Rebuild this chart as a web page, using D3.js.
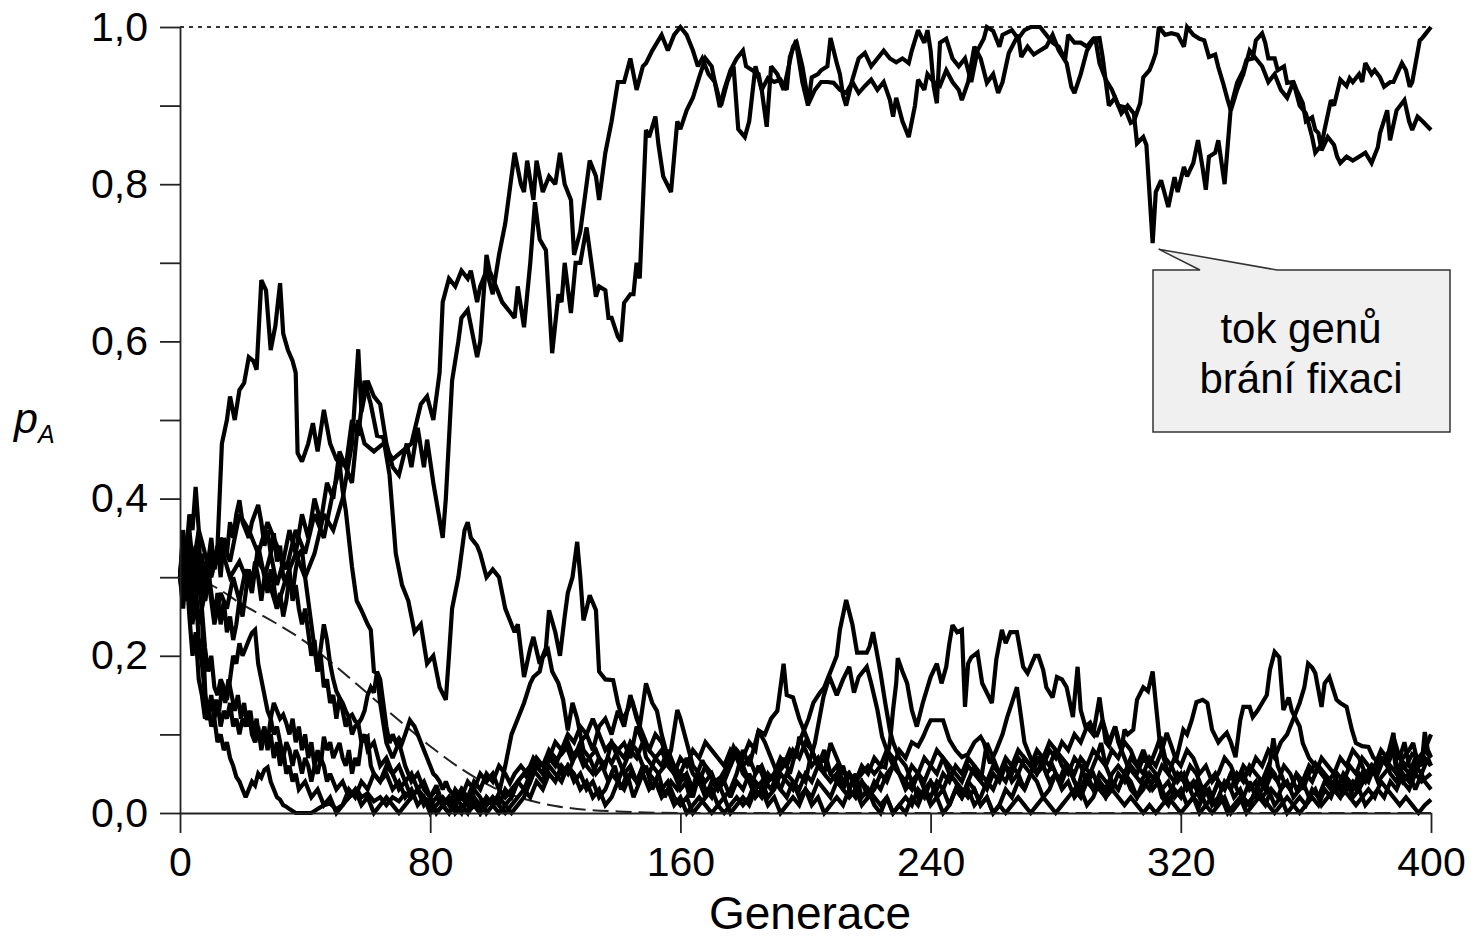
<!DOCTYPE html>
<html><head><meta charset="utf-8">
<script src="https://cdn.jsdelivr.net/npm/d3@7"></script>
<style>body{margin:0;background:#fff}svg{display:block}</style>
</head><body>
<svg id="chart" width="1476" height="941"></svg>
<script>
// ---------- data ----------
const xTickValues=[0,80,160,240,320,400];
const yTickValues=[0,0.1,0.2,0.3,0.4,0.5,0.6,0.7,0.8,0.9,1.0];
const yLabelled=[0,0.2,0.4,0.6,0.8,1.0];
const xTitle="Generace";
const calloutLines=["tok genů","brání fixaci"];
const calloutGen=311, calloutVal=0.725;

// expected (mean) trajectory, dashed
const expected=[[0,0.30],[10,0.29],[20,0.265],[30,0.243],[40,0.218],[50,0.186],[60,0.152],[70,0.118],[80,0.085],[90,0.056],[100,0.033],[110,0.018],[120,0.009],[130,0.004],[140,0.002],[160,0.0],[400,0.0]];

const upper1=[[0,0.30],[2,0.34],[4,0.31],[6,0.36],[8,0.33],[10,0.30],[13,0.35],[16,0.32],[19,0.38],[22,0.36],[25,0.33],[28,0.37],[31,0.34],[34,0.31],[37,0.36],[40,0.33],[43,0.38],[46,0.35],[49,0.41],[52,0.45],[55,0.42],[57,0.50],[59,0.47],[62,0.46],[65,0.47],[68,0.45],[71,0.46],[74,0.47],[77,0.52],[79,0.53],[81,0.50],[83,0.56],[84,0.65],[86,0.68],[88,0.67],[90,0.69],[92,0.68],[93,0.69],[95,0.65],[96,0.67],[98,0.69],[100,0.66],[102,0.71],[104,0.75],[107,0.84],[109,0.80],[110,0.79],[111,0.83],[113,0.78],[114,0.83],[116,0.79],[118,0.81],[120,0.80],[121.5,0.84],[123,0.80],[125,0.78],[126,0.71],[128,0.74],[130,0.80],[131,0.83],[133,0.81],[134,0.78],[136,0.84],[138,0.88],[140,0.93],[142,0.93],[144,0.96],[146,0.92],[148,0.95],[149,0.954],[151,0.97],[154,0.99],[156,0.97],[158,0.99],[160,1.0],[162,0.99],[164,0.97],[165.6,0.95],[167,0.96],[169,0.94],[171,0.93],[173,0.90],[175,0.93],[177,0.95],[178.5,0.87],[180.6,0.86],[182,0.88],[184,0.95],[186,0.92],[187.6,0.873],[189,0.95],[191,0.94],[193,0.92],[196,0.975],[197,0.98],[199,0.93],[200.8,0.90],[202,0.936],[204,0.94],[205,0.945],[207,0.95],[208,0.986],[209,0.97],[210,0.954],[211,0.94],[212,0.913],[213,0.90],[215,0.933],[217,0.96],[219,0.967],[221,0.95],[223,0.96],[225,0.97],[227,0.96],[229,0.955],[231,0.96],[233,0.954],[234,0.97],[236,0.996],[238,0.98],[239,0.996],[240,0.97],[241,0.924],[242,0.903],[243,0.98],[245,0.985],[247,0.96],[249,0.95],[251,0.96],[253,0.93],[255,0.97],[257,0.985],[258,1.0],[260,0.995],[262,0.975],[263,0.99],[266,0.996],[268,0.985],[270,0.996],[272,1.0],[275,1.0],[277,0.99],[279,0.98],[281,0.975],[283,0.958],[284,0.99],[286,0.98],[288,0.98],[290,0.975],[292,0.985],[294,0.986],[295,0.962],[297,0.90],[299,0.91],[301,0.89],[303,0.90],[305,0.89],[306,0.852],[308,0.86],[309,0.85],[311,0.725],[312,0.79],[313.7,0.805],[316,0.771],[318,0.809],[319,0.79],[321,0.822],[322,0.81],[324,0.827],[325.5,0.856],[327,0.82],[328,0.793],[329,0.835],[331,0.84],[332,0.856],[334,0.80],[336,0.898],[338,0.929],[340,0.945],[341,0.958],[343,0.96],[344,0.983],[346,0.992],[347,0.98],[348,0.96],[350,0.96],[351,0.945],[353,0.95],[354,0.929],[356,0.93],[357,0.92],[359,0.903],[360,0.88],[362,0.885],[363,0.869],[364,0.865],[365,0.843],[367,0.86],[369,0.85],[370,0.835],[371,0.827],[373,0.835],[375,0.83],[377,0.835],[379,0.84],[381,0.827],[383,0.847],[383.7,0.865],[386,0.894],[386.9,0.856],[389,0.894],[391.5,0.907],[393,0.88],[394,0.869],[395.7,0.886],[397.3,0.88],[400,0.869]];

const upper2=[[0,0.30],[2,0.28],[4,0.33],[6,0.30],[8,0.27],[10,0.31],[13,0.34],[16,0.30],[19,0.32],[22,0.29],[25,0.32],[28,0.30],[31,0.26],[34,0.30],[37,0.33],[40,0.30],[43,0.33],[46,0.38],[49,0.36],[52,0.40],[55,0.47],[57,0.59],[58,0.51],[60,0.55],[62,0.53],[64,0.52],[66,0.47],[68,0.44],[70,0.43],[72.5,0.47],[74,0.44],[76,0.49],[78,0.44],[79,0.475],[81,0.42],[82.5,0.385],[84,0.35],[85,0.40],[87,0.55],[89,0.60],[90,0.63],[92,0.64],[94,0.60],[95,0.58],[96,0.60],[98,0.71],[99,0.69],[101,0.67],[103,0.65],[105,0.64],[107,0.63],[108,0.67],[110,0.618],[112,0.70],[113.5,0.777],[115,0.73],[117,0.716],[119,0.585],[121,0.66],[122,0.65],[123,0.70],[125,0.636],[126.5,0.70],[128,0.70],[130,0.745],[133,0.657],[134,0.67],[136,0.665],[137,0.63],[138,0.63],[140,0.606],[141,0.60],[142,0.649],[144,0.66],[145,0.66],[146,0.70],[147,0.68],[149,0.869],[150,0.86],[152,0.886],[153,0.85],[154.5,0.81],[157,0.79],[159,0.88],[160,0.87],[162,0.894],[164,0.91],[166,0.936],[168,0.96],[170,0.95],[172.6,0.898],[174,0.92],[176,0.945],[178,0.96],[180,0.97],[181,0.95],[183,0.945],[185,0.94],[186,0.92],[188,0.935],[190,0.93],[192,0.933],[194,0.92],[195,0.962],[197,0.983],[199,0.95],[201,0.903],[203,0.92],[205,0.93],[207,0.93],[209,0.929],[211,0.92],[213,0.916],[215,0.93],[217,0.916],[219,0.925],[221,0.933],[223,0.92],[225,0.93],[227,0.907],[228,0.886],[229,0.91],[231,0.88],[233,0.86],[235,0.90],[236,0.933],[238,0.92],[239,0.94],[241,0.93],[243,0.925],[245,0.945],[247,0.93],[249,0.92],[250,0.907],[252,0.93],[254,0.975],[256,0.96],[258,0.929],[260,0.94],[261.6,0.916],[263,0.93],[265,0.967],[268,0.99],[269,0.962],[271,0.975],[273,0.965],[275,0.97],[277,0.975],[279,0.99],[281,0.97],[283.5,0.954],[285,0.924],[286,0.916],[288,0.94],[290,0.97],[292.6,0.987],[294,0.954],[296,0.933],[298,0.92],[300,0.90],[302,0.898],[304,0.878],[305,0.88],[307,0.903],[308,0.936],[310,0.945],[311,0.955],[312,0.967],[313,1.0],[315,0.99],[317,0.992],[319,0.99],[321,0.975],[322,1.0],[324,0.99],[326,0.985],[327.5,0.983],[329,0.962],[331,0.965],[332,0.949],[333.5,0.929],[335,0.907],[336,0.894],[338,0.92],[340,0.94],[342,0.97],[344,0.96],[346,0.95],[348,0.93],[350,0.94],[352,0.92],[354,0.91],[356,0.93],[358,0.90],[360,0.89],[362,0.86],[363,0.84],[365,0.85],[366,0.87],[368,0.907],[369,0.90],[371,0.933],[373,0.925],[374,0.935],[375,0.93],[377,0.94],[378,0.93],[379,0.954],[381,0.94],[382,0.945],[383.7,0.936],[385,0.924],[387,0.93],[388,0.93],[390.7,0.954],[392,0.945],[393.2,0.924],[394,0.93],[396.4,0.983],[397,0.985],[398,0.99],[400,1.0]];

const lower1=[[0,0.30],[2,0.35],[3,0.28],[5,0.33],[7,0.26],[9,0.30],[11,0.24],[13,0.28],[15,0.26],[17,0.30],[19,0.27],[21,0.31],[23,0.28],[25,0.34],[27,0.30],[29,0.33],[31,0.29],[33,0.32],[35,0.36],[37,0.33],[39,0.38],[41,0.35],[43,0.40],[45,0.37],[47,0.42],[49,0.40],[51,0.46],[53,0.44],[55,0.50],[57,0.48],[59,0.55],[61,0.52],[63,0.48],[65,0.478],[67,0.43],[69,0.33],[71,0.29],[73,0.27],[75,0.23],[77,0.24],[79,0.19],[81,0.20],[83,0.16],[85,0.144],[86,0.20],[87,0.26],[89,0.30],[91,0.36],[92,0.37],[93,0.35],[95,0.34],[96,0.33],[98,0.30],[100,0.31],[102,0.30],[104,0.26],[105,0.25],[107,0.23],[108,0.24],[110,0.173],[112,0.21],[113,0.224],[115,0.19],[117,0.21],[118,0.258],[120,0.23],[121.5,0.20],[123,0.25],[124,0.28],[125.5,0.30],[127,0.345],[128,0.30],[129,0.245],[130,0.26],[131,0.277],[133,0.258],[134,0.18],[136,0.17],[138.5,0.169],[140,0.14],[141.6,0.118],[143,0.13],[144.5,0.144],[147,0.11],[149,0.165],[151,0.14],[152.5,0.13],[154,0.10],[156,0.07],[158,0.05],[160,0.03],[162,0.04],[164,0.02],[166,0.05],[168,0.03],[170,0.02],[172,0.04],[174,0.02],[176,0.03],[178,0.05],[180,0.08],[182,0.06],[184,0.09],[185,0.105],[187,0.10],[189,0.12],[191,0.13],[193,0.19],[194,0.15],[196,0.147],[198,0.12],[200,0.10],[202,0.08],[204,0.06],[206,0.08],[208,0.05],[210,0.04],[212,0.06],[214,0.03],[216,0.05],[218,0.02],[220,0.03],[222,0.01],[224,0.0],[226,0.02],[228,0.0],[230,0.01],[232,0.0],[234,0.02],[236,0.01],[238,0.03],[240,0.02],[242,0.04],[244,0.03],[246,0.05],[248,0.04],[250,0.02],[252,0.03],[254,0.01],[256,0.02],[258,0.04],[260,0.03],[262,0.05],[264,0.04],[266,0.06],[268,0.05],[270,0.07],[272,0.06],[274,0.08],[276,0.07],[278,0.09],[280,0.08],[282,0.06],[284,0.05],[286,0.07],[288,0.06],[290,0.04],[292,0.05],[294,0.03],[296,0.02],[298,0.04],[300,0.03],[302,0.05],[304,0.04],[306,0.02],[308,0.03],[310,0.05],[312,0.04],[314,0.06],[316,0.05],[318,0.07],[320,0.06],[322,0.08],[324,0.07],[326,0.05],[328,0.06],[330,0.04],[332,0.05],[334,0.07],[336,0.06],[338,0.04],[340,0.05],[342,0.03],[344,0.04],[346,0.02],[348,0.03],[350,0.01],[352,0.02],[354,0.0],[356,0.01],[358,0.02],[360,0.01],[362,0.03],[364,0.02],[366,0.04],[368,0.03],[370,0.05],[372,0.04],[374,0.06],[376,0.05],[378,0.07],[380,0.06],[382,0.05],[384,0.07],[386,0.06],[388,0.08],[390,0.07],[391.5,0.09],[393,0.06],[395,0.05],[397,0.07],[399,0.09],[400,0.1]];

const lower2=[[0,0.30],[1,0.34],[2,0.29],[3,0.33],[4,0.30],[5,0.27],[6,0.31],[7,0.28],[8,0.32],[9,0.30],[10,0.33],[11,0.31],[12,0.34],[13.4,0.47],[15,0.50],[16,0.53],[17.5,0.50],[19,0.538],[20.5,0.547],[22,0.58],[23.5,0.575],[24.5,0.564],[26,0.678],[27.5,0.665],[29,0.589],[30.5,0.62],[32,0.674],[33,0.61],[34.5,0.589],[36,0.575],[37,0.56],[37.6,0.458],[39,0.447],[41,0.47],[42.5,0.496],[44,0.46],[46,0.513],[48,0.47],[50,0.45],[51,0.445],[52,0.41],[53,0.385],[55,0.313],[56.5,0.27],[58,0.258],[60,0.24],[61,0.233],[62,0.18],[63,0.178],[64,0.14],[66,0.089],[68,0.07],[70,0.09],[72,0.06],[74,0.04],[76,0.05],[78,0.03],[80,0.02],[82,0.035],[84,0.01],[86,0.02],[88,0.0],[90,0.01],[92,0.0],[94,0.02],[96,0.01],[98,0.02],[100,0.01],[102,0.025],[104,0.06],[106,0.10],[108,0.12],[110,0.14],[112,0.165],[113,0.173],[115,0.18],[116,0.198],[117.7,0.207],[119,0.18],[121,0.165],[122.5,0.144],[124,0.105],[125.5,0.14],[127,0.12],[129,0.08],[131,0.07],[133,0.05],[135,0.06],[137,0.04],[139,0.06],[141,0.03],[143,0.05],[145,0.02],[147,0.04],[149,0.06],[151,0.03],[153,0.05],[155,0.02],[157,0.04],[159,0.03],[161,0.05],[163,0.02],[165,0.046],[167,0.067],[169,0.05],[171,0.04],[173,0.046],[175,0.06],[177,0.084],[179,0.07],[181,0.05],[183,0.04],[185,0.06],[187,0.04],[189,0.03],[191,0.05],[193,0.07],[195,0.05],[197,0.08],[199,0.10],[201,0.12],[202.5,0.14],[204.6,0.153],[206,0.16],[207,0.17],[209,0.19],[210,0.20],[211,0.233],[213,0.271],[215,0.24],[216.5,0.204],[218,0.204],[219.6,0.204],[220.5,0.212],[221.6,0.23],[223,0.20],[224,0.178],[225.5,0.14],[227,0.105],[228,0.09],[230,0.07],[232,0.06],[234,0.04],[236,0.05],[238,0.03],[240,0.04],[242,0.02],[244,0.03],[246,0.01],[248,0.03],[250,0.02],[252,0.04],[254,0.06],[256,0.04],[258,0.089],[260,0.07],[262,0.05],[264,0.06],[266,0.04],[268,0.05],[270,0.03],[272,0.05],[275,0.071],[277,0.05],[279,0.06],[281,0.04],[283,0.06],[285,0.05],[287,0.03],[289,0.06],[291,0.05],[293,0.07],[294.5,0.089],[296,0.06],[298,0.04],[300,0.03],[302,0.05],[304,0.03],[306,0.02],[308,0.04],[310,0.03],[312,0.05],[314,0.02],[316,0.01],[318,0.03],[320,0.02],[322,0.04],[324,0.02],[326,0.03],[328,0.01],[330,0.02],[332,0.04],[334,0.03],[336,0.05],[338,0.03],[340,0.02],[342,0.04],[344,0.02],[346,0.03],[348,0.05],[349.6,0.095],[351,0.06],[353,0.04],[355,0.03],[357,0.05],[359,0.03],[361,0.05],[363,0.063],[365,0.05],[367,0.04],[369,0.03],[371,0.02],[373,0.03],[375,0.04],[377,0.03],[379,0.045],[381,0.05],[383,0.06],[385,0.07],[386,0.075],[388,0.08],[389,0.05],[391,0.04],[393,0.03],[395,0.05],[397,0.04],[400,0.05]];

const lower3=[[0,0.30],[1,0.36],[2,0.32],[3,0.35],[4,0.31],[5,0.34],[6,0.30],[7,0.33],[8,0.29],[9,0.32],[10,0.35],[11,0.31],[12,0.34],[13,0.30],[14,0.35],[15,0.33],[16,0.37],[17,0.35],[18,0.38],[19,0.398],[20,0.37],[21,0.36],[22,0.35],[23,0.37],[25,0.392],[26,0.37],[27,0.34],[28,0.36],[29,0.33],[30,0.356],[31,0.32],[32,0.34],[33,0.30],[34,0.29],[35,0.31],[36,0.27],[37,0.29],[38,0.26],[39,0.24],[40,0.26],[41,0.23],[42,0.20],[43,0.22],[44,0.18],[45,0.2],[46,0.16],[47,0.17],[48,0.14],[49,0.15],[50,0.12],[51,0.147],[52,0.13],[53,0.11],[54,0.122],[55,0.10],[56,0.11],[57,0.114],[58,0.09],[59,0.10],[60,0.08],[62,0.09],[64,0.06],[66,0.07],[68,0.05],[70,0.06],[72,0.04],[74,0.05],[76,0.03],[78,0.04],[80,0.02],[82,0.03],[84,0.01],[86,0.02],[88,0.01],[90,0.03],[92,0.02],[94,0.04],[96,0.03],[98,0.05],[100,0.04],[102,0.06],[104,0.05],[105.5,0.038],[107,0.05],[109,0.06],[111,0.05],[113,0.07],[115,0.06],[117,0.065],[118,0.07],[120,0.067],[122,0.075],[123.7,0.084],[125,0.07],[127,0.08],[129,0.06],[131,0.071],[133,0.08],[135,0.06],[137,0.07],[138,0.063],[140,0.08],[142,0.089],[144,0.07],[146,0.11],[148,0.09],[149,0.071],[151,0.06],[153,0.05],[155,0.06],[157,0.08],[159,0.131],[160,0.12],[162,0.09],[164,0.06],[166,0.05],[168,0.04],[170,0.05],[172,0.03],[174,0.04],[176,0.02],[178,0.04],[180,0.03],[182,0.05],[184,0.03],[186,0.04],[188,0.02],[190,0.03],[192,0.05],[194,0.04],[196,0.03],[198,0.05],[200,0.04],[201.4,0.067],[203,0.089],[205.7,0.147],[207,0.165],[208,0.17],[210,0.15],[212,0.17],[214,0.186],[215.5,0.153],[217,0.173],[219.6,0.186],[221,0.165],[223,0.131],[224.5,0.097],[226,0.08],[228,0.06],[230,0.05],[232,0.03],[234,0.04],[236,0.02],[238,0.03],[240,0.01],[242,0.02],[244,0.0],[246,0.01],[248,0.03],[250,0.02],[252,0.04],[254,0.03],[256,0.01],[258,0.02],[260,0.0],[262,0.01],[264,0.03],[266,0.02],[268,0.04],[270,0.03],[272,0.05],[274,0.04],[276,0.02],[278,0.03],[280,0.05],[282,0.04],[284,0.06],[286,0.04],[288,0.03],[290,0.05],[292,0.03],[294,0.04],[296,0.02],[298,0.03],[300,0.05],[302,0.04],[304,0.06],[306,0.05],[308,0.07],[310,0.06],[312,0.08],[313.5,0.097],[315,0.07],[317,0.06],[319,0.04],[321,0.05],[323,0.03],[325,0.04],[327,0.02],[329,0.03],[331,0.01],[333,0.02],[335,0.0],[337,0.01],[339,0.02],[341,0.0],[343,0.01],[345,0.02],[347,0.01],[349,0.03],[351,0.02],[353,0.04],[355,0.03],[357,0.05],[359,0.04],[361,0.06],[363,0.05],[365,0.07],[367,0.06],[369,0.05],[371,0.07],[373,0.06],[375,0.08],[377,0.07],[379,0.05],[381,0.06],[383,0.04],[385,0.05],[387,0.06],[389,0.05],[391,0.07],[393,0.08],[394.3,0.089],[396,0.06],[398,0.07],[400,0.06]];

const lower4=[[0,0.30],[1,0.35],[2,0.33],[3,0.38],[4,0.36],[5,0.415],[6,0.36],[7,0.25],[8,0.16],[8.6,0.118],[9.5,0.14],[10.5,0.13],[11.5,0.144],[12.5,0.13],[13.5,0.16],[14.5,0.14],[15.5,0.17],[16.5,0.15],[17.5,0.13],[18.5,0.15],[19.5,0.12],[20.5,0.14],[21.5,0.11],[22.5,0.13],[23.5,0.10],[24.5,0.12],[25.5,0.09],[27,0.11],[28,0.08],[29,0.10],[30,0.07],[31,0.09],[32,0.06],[33,0.08],[34,0.05],[35,0.06],[36,0.04],[37,0.05],[38,0.03],[40,0.04],[42,0.02],[44,0.03],[46,0.01],[48,0.02],[50,0.0],[52,0.01],[54,0.03],[56,0.02],[58,0.04],[60,0.03],[62,0.05],[64,0.04],[66,0.06],[68,0.05],[70,0.03],[72,0.04],[74,0.02],[76,0.03],[78,0.01],[80,0.02],[82,0.0],[84,0.01],[86,0.02],[88,0.01],[90,0.0],[92,0.02],[94,0.01],[96,0.0],[98,0.02],[100,0.01],[102,0.0],[104,0.01],[106,0.02],[108,0.04],[110,0.05],[112,0.06],[114,0.05],[116,0.04],[118,0.06],[120,0.05],[122,0.04],[124,0.06],[126,0.05],[128,0.03],[130,0.04],[132,0.02],[134,0.03],[136,0.01],[138,0.02],[140,0.04],[142,0.03],[144,0.05],[146,0.04],[148,0.06],[150,0.05],[152,0.07],[154,0.06],[156,0.08],[158,0.06],[160,0.05],[162,0.07],[164,0.05],[166,0.04],[168,0.06],[170,0.05],[172,0.03],[174,0.04],[176,0.06],[178,0.08],[180,0.06],[182,0.07],[184,0.05],[186,0.06],[188,0.04],[190,0.05],[192,0.03],[194,0.02],[196,0.04],[198,0.03],[200,0.05],[202,0.04],[204,0.06],[206,0.05],[208,0.089],[210,0.07],[212,0.051],[214,0.05],[216,0.04],[218,0.05],[220,0.06],[222,0.05],[224,0.06],[225.5,0.058],[227,0.09],[228,0.131],[229,0.165],[229.5,0.197],[231,0.18],[232.5,0.165],[234,0.131],[235.6,0.11],[237.5,0.14],[240,0.173],[242,0.19],[243.5,0.165],[245,0.186],[246,0.216],[247,0.239],[248.5,0.23],[250,0.233],[251,0.135],[252,0.19],[253,0.198],[255,0.204],[256.5,0.165],[258,0.153],[259.6,0.14],[261,0.195],[262.8,0.233],[264,0.216],[265.5,0.23],[267.6,0.23],[269.6,0.186],[271,0.178],[273.4,0.20],[274.5,0.2],[276,0.182],[277,0.16],[279,0.147],[280.4,0.173],[282,0.17],[283.5,0.16],[285.5,0.122],[287,0.186],[288,0.131],[289.5,0.11],[291,0.115],[293,0.097],[295,0.118],[297,0.09],[299,0.11],[301,0.08],[303,0.06],[305,0.05],[307,0.04],[309,0.05],[311,0.03],[313,0.04],[315,0.02],[317,0.03],[319,0.05],[321,0.04],[323,0.06],[325,0.05],[327,0.03],[329,0.04],[331,0.05],[333,0.03],[335,0.04],[337,0.02],[339,0.03],[341,0.01],[343,0.02],[345,0.04],[347,0.03],[349,0.05],[351,0.04],[353,0.06],[355,0.05],[357,0.03],[359,0.04],[361,0.02],[363,0.03],[365,0.01],[367,0.02],[369,0.03],[371,0.02],[373,0.04],[375,0.03],[377,0.05],[379,0.04],[381,0.06],[383,0.05],[385,0.07],[387,0.05],[389,0.04],[391,0.06],[393,0.05],[395,0.07],[397,0.06],[398,0.103],[399,0.08],[400,0.071]];

const lower5=[[0,0.30],[1,0.26],[2,0.31],[3,0.25],[4,0.20],[5,0.23],[6,0.17],[7,0.15],[8,0.12],[9,0.14],[10,0.11],[11,0.12],[12,0.09],[13,0.10],[14,0.08],[15,0.09],[16,0.07],[17,0.06],[18,0.046],[19,0.04],[20,0.03],[21,0.02],[22,0.03],[23,0.04],[24,0.035],[25,0.05],[26,0.045],[27,0.055],[28,0.058],[29,0.04],[30,0.03],[31,0.02],[32,0.017],[33,0.01],[34,0.008],[35,0.005],[37,0.0],[40,0.0],[42,0.0],[44,0.005],[46,0.01],[48,0.012],[50,0.005],[52,0.01],[54,0.02],[55.5,0.025],[56.6,0.03],[58,0.02],[60,0.025],[62,0.015],[64,0.02],[66,0.01],[68,0.02],[70,0.015],[72,0.025],[74,0.02],[76,0.03],[78,0.02],[80,0.01],[82,0.02],[84,0.01],[86,0.0],[88,0.01],[90,0.02],[92,0.01],[94,0.03],[96,0.02],[98,0.0],[100,0.01],[102,0.02],[104,0.01],[106,0.0],[108,0.01],[110,0.02],[112,0.04],[114,0.06],[116,0.05],[118,0.07],[120,0.06],[122,0.08],[124,0.09],[126,0.07],[128,0.08],[130,0.06],[132,0.05],[134,0.07],[136,0.06],[138,0.09],[140,0.08],[142,0.07],[144,0.09],[146,0.08],[148,0.06],[150,0.05],[152,0.04],[154,0.03],[156,0.04],[158,0.02],[160,0.01],[162,0.02],[164,0.0],[166,0.01],[168,0.02],[170,0.04],[172,0.03],[174,0.05],[176,0.06],[178,0.08],[180,0.07],[182,0.09],[184,0.08],[185,0.105],[187,0.09],[189,0.07],[191,0.05],[193,0.06],[195,0.08],[197,0.07],[198,0.097],[200,0.08],[202,0.06],[204,0.07],[206,0.05],[208,0.04],[210,0.05],[212,0.03],[214,0.02],[216,0.03],[218,0.01],[220,0.02],[222,0.04],[224,0.03],[226,0.05],[228,0.06],[230,0.08],[232,0.07],[234,0.09],[236,0.085],[237.6,0.097],[239,0.11],[240,0.118],[242,0.118],[244,0.118],[246,0.093],[248,0.08],[250,0.071],[252,0.075],[254,0.09],[256,0.097],[257,0.09],[259,0.063],[261,0.08],[263,0.1],[264.5,0.122],[266,0.14],[267.6,0.16],[269,0.12],[270,0.09],[272,0.07],[274,0.05],[276,0.06],[278,0.04],[280,0.05],[282,0.03],[284,0.04],[286,0.02],[288,0.03],[290,0.01],[292,0.02],[294,0.04],[296,0.03],[298,0.05],[300,0.06],[302,0.05],[304,0.07],[306,0.06],[308,0.08],[310,0.06],[312,0.05],[314,0.03],[316,0.04],[318,0.02],[320,0.03],[322,0.01],[324,0.02],[326,0.0],[328,0.01],[330,0.0],[332,0.01],[334,0.02],[336,0.0],[338,0.01],[340,0.02],[342,0.01],[344,0.03],[346,0.02],[348,0.01],[350,0.0],[352,0.01],[354,0.02],[356,0.01],[358,0.0],[360,0.01],[362,0.02],[364,0.01],[366,0.03],[368,0.02],[370,0.04],[372,0.03],[374,0.02],[376,0.01],[378,0.02],[380,0.03],[382,0.02],[384,0.04],[386,0.03],[388,0.02],[390,0.01],[392,0.02],[394,0.01],[396,0.0],[398,0.01],[400,0.017]];

const lower6=[[0,0.30],[1,0.33],[2,0.27],[3,0.31],[4,0.26],[5,0.29],[6,0.24],[7,0.26],[8,0.21],[9,0.18],[10,0.20],[11,0.16],[12,0.15],[13,0.17],[14,0.16],[15,0.144],[16,0.17],[17,0.20],[18,0.19],[19,0.216],[20,0.20],[21,0.21],[22,0.22],[23,0.229],[24,0.233],[25,0.19],[26,0.17],[27,0.15],[28,0.13],[29,0.12],[30,0.14],[31,0.13],[32,0.12],[33,0.125],[34,0.114],[35,0.10],[36,0.12],[37,0.09],[38,0.11],[39,0.08],[40,0.10],[41,0.07],[42,0.09],[43,0.06],[44,0.08],[45,0.06],[46,0.097],[47,0.08],[48,0.09],[49,0.07],[50,0.08],[51,0.089],[52,0.07],[53,0.06],[54,0.08],[55,0.05],[56,0.07],[57,0.06],[58,0.09],[60,0.097],[61,0.06],[62,0.05],[64,0.04],[66,0.05],[68,0.03],[70,0.04],[72,0.02],[74,0.03],[76,0.01],[78,0.02],[80,0.0],[82,0.01],[84,0.02],[86,0.01],[88,0.03],[90,0.02],[92,0.04],[94,0.03],[96,0.05],[98,0.04],[100,0.05],[102,0.03],[104,0.02],[106,0.03],[108,0.04],[110,0.03],[112,0.05],[114,0.07],[116,0.06],[118,0.08],[120,0.07],[122,0.05],[124,0.06],[126,0.04],[128,0.05],[130,0.03],[132,0.04],[134,0.02],[136,0.03],[138,0.05],[140,0.04],[142,0.06],[144,0.08],[146,0.07],[148,0.09],[150,0.08],[152,0.10],[154,0.09],[156,0.07],[158,0.06],[160,0.04],[162,0.05],[164,0.03],[166,0.04],[168,0.02],[170,0.03],[172,0.01],[174,0.02],[176,0.0],[178,0.01],[180,0.02],[182,0.01],[184,0.03],[186,0.02],[188,0.04],[190,0.05],[192,0.07],[194,0.06],[196,0.08],[198,0.07],[200,0.09],[202,0.08],[204,0.06],[206,0.07],[208,0.05],[210,0.06],[212,0.04],[214,0.05],[216,0.03],[218,0.04],[220,0.02],[222,0.03],[224,0.05],[226,0.04],[228,0.06],[230,0.05],[232,0.04],[234,0.03],[236,0.05],[238,0.04],[240,0.06],[242,0.05],[244,0.07],[246,0.06],[248,0.05],[250,0.04],[252,0.06],[254,0.05],[256,0.04],[258,0.03],[260,0.05],[262,0.04],[264,0.06],[266,0.05],[268,0.07],[270,0.06],[272,0.05],[274,0.07],[276,0.06],[278,0.08],[280,0.07],[282,0.09],[284,0.08],[286,0.10],[288,0.09],[290,0.11],[292,0.10],[294,0.147],[295,0.118],[296,0.09],[297,0.085],[299,0.11],[300,0.09],[301,0.08],[302,0.106],[303,0.10],[304.8,0.106],[306,0.144],[308,0.16],[309.5,0.155],[311,0.18],[312,0.14],[313.3,0.089],[314.5,0.07],[316,0.05],[318,0.04],[320,0.05],[322,0.03],[324,0.04],[326,0.02],[328,0.03],[330,0.01],[332,0.02],[334,0.04],[336,0.03],[338,0.05],[340,0.04],[342,0.06],[344,0.05],[346,0.04],[348,0.06],[350,0.05],[352,0.03],[354,0.04],[356,0.02],[358,0.03],[360,0.05],[362,0.04],[364,0.06],[366,0.05],[368,0.04],[370,0.03],[372,0.05],[374,0.04],[376,0.03],[378,0.05],[380,0.04],[382,0.06],[384,0.08],[386,0.07],[388,0.102],[389,0.06],[391,0.04],[393,0.05],[395,0.03],[397,0.05],[398,0.04],[400,0.03]];

const lower7=[[0,0.30],[1,0.27],[2,0.32],[3,0.29],[4,0.24],[5,0.28],[6,0.22],[7,0.19],[8,0.15],[9,0.13],[10,0.15],[11,0.12],[12,0.14],[13,0.11],[14,0.13],[15,0.12],[16,0.14],[17,0.11],[18,0.12],[19,0.10],[20,0.12],[21,0.11],[22,0.13],[23,0.10],[24,0.09],[25,0.11],[26,0.08],[27,0.10],[28,0.09],[29,0.12],[30,0.10],[31,0.11],[32,0.09],[33,0.07],[34,0.09],[35,0.08],[36,0.06],[37,0.08],[38,0.07],[39,0.05],[40,0.07],[41,0.06],[42,0.04],[43,0.06],[44,0.05],[45,0.07],[46,0.06],[47,0.04],[48,0.05],[50,0.03],[52,0.04],[54,0.02],[56,0.03],[58,0.01],[60,0.02],[62,0.0],[64,0.01],[66,0.02],[68,0.01],[70,0.0],[72,0.01],[74,0.02],[76,0.03],[78,0.02],[80,0.01],[82,0.0],[84,0.01],[86,0.0],[88,0.02],[90,0.01],[92,0.0],[94,0.01],[96,0.0],[98,0.01],[100,0.02],[102,0.01],[104,0.03],[106,0.02],[108,0.04],[110,0.05],[112,0.04],[114,0.06],[116,0.05],[118,0.07],[120,0.09],[122,0.08],[124,0.10],[126,0.09],[128,0.11],[130,0.10],[132,0.12],[134,0.10],[136,0.08],[138,0.09],[140,0.07],[142,0.05],[144,0.06],[146,0.04],[148,0.05],[150,0.03],[152,0.04],[154,0.02],[156,0.03],[158,0.01],[160,0.02],[162,0.0],[164,0.01],[166,0.02],[168,0.01],[170,0.0],[172,0.01],[174,0.0],[176,0.01],[178,0.02],[180,0.01],[182,0.02],[184,0.04],[186,0.03],[188,0.05],[190,0.04],[192,0.03],[194,0.05],[196,0.04],[198,0.02],[200,0.03],[202,0.01],[204,0.02],[206,0.0],[208,0.01],[210,0.02],[212,0.01],[214,0.03],[216,0.02],[218,0.04],[220,0.03],[222,0.02],[224,0.01],[226,0.02],[228,0.0],[230,0.01],[232,0.02],[234,0.01],[236,0.03],[238,0.02],[240,0.04],[242,0.03],[244,0.05],[246,0.04],[248,0.06],[250,0.05],[252,0.07],[254,0.06],[256,0.05],[258,0.04],[260,0.06],[262,0.05],[264,0.07],[266,0.06],[268,0.08],[270,0.07],[272,0.06],[274,0.05],[276,0.07],[278,0.06],[280,0.08],[282,0.07],[284,0.06],[286,0.05],[288,0.07],[290,0.06],[292,0.08],[294,0.07],[296,0.06],[298,0.08],[300,0.07],[302,0.09],[304,0.08],[306,0.06],[308,0.05],[310,0.07],[312,0.06],[314,0.08],[315.5,0.102],[317,0.085],[318.5,0.067],[320.8,0.106],[322,0.10],[323.5,0.118],[325,0.141],[327,0.144],[328.5,0.14],[330,0.106],[332,0.09],[333,0.095],[334.7,0.102],[336,0.09],[337.5,0.071],[339,0.118],[340,0.135],[342,0.135],[343,0.122],[344.5,0.13],[346,0.14],[347.5,0.15],[348.5,0.182],[350,0.205],[351.5,0.198],[352.8,0.131],[354.5,0.147],[355.5,0.13],[357,0.118],[358,0.11],[359,0.089],[361,0.07],[363,0.06],[365,0.05],[367,0.04],[369,0.05],[371,0.03],[373,0.04],[375,0.02],[377,0.03],[379,0.01],[381,0.02],[383,0.03],[385,0.02],[387,0.04],[389,0.03],[391,0.05],[393,0.04],[395,0.06],[397,0.05],[399,0.07],[400,0.06]];

const lower8=[[0,0.30],[1,0.34],[2,0.30],[3,0.36],[4,0.32],[5,0.29],[6,0.33],[7,0.30],[8,0.27],[9,0.31],[10,0.28],[11,0.25],[12,0.28],[13,0.24],[14,0.27],[15,0.23],[16,0.25],[17,0.22],[18,0.24],[19,0.27],[20,0.25],[21,0.28],[22,0.31],[23,0.29],[24,0.32],[25,0.30],[26,0.27],[27,0.30],[28,0.28],[29,0.31],[30,0.29],[31,0.26],[32,0.28],[33,0.25],[34,0.27],[35,0.30],[36,0.28],[37,0.31],[38,0.33],[39,0.335],[40,0.30],[41,0.27],[42,0.24],[43,0.21],[44,0.18],[45,0.21],[46,0.24],[47,0.22],[48,0.19],[49,0.17],[50,0.155],[51,0.147],[52,0.14],[53,0.13],[54,0.122],[55,0.125],[56,0.117],[57,0.114],[58,0.12],[59,0.13],[60,0.15],[61,0.16],[62,0.153],[63,0.18],[64,0.17],[65,0.14],[66,0.11],[67,0.089],[68,0.10],[69,0.09],[70,0.095],[71,0.089],[72,0.10],[73.5,0.118],[75,0.11],[76,0.10],[77,0.09],[78,0.08],[79,0.07],[80,0.06],[81,0.05],[82,0.046],[83,0.04],[84,0.03],[85,0.04],[86,0.03],[88,0.02],[90,0.03],[92,0.01],[94,0.02],[96,0.0],[98,0.01],[100,0.02],[102,0.01],[104,0.0],[106,0.01],[108,0.02],[110,0.03],[112,0.02],[114,0.04],[116,0.03],[118,0.05],[120,0.04],[122,0.06],[124,0.05],[126,0.07],[128,0.09],[130,0.10],[132,0.08],[134,0.11],[136,0.12],[138,0.10],[140,0.13],[142,0.11],[144,0.15],[146,0.12],[148,0.10],[150,0.08],[152,0.07],[154,0.08],[156,0.06],[158,0.05],[160,0.07],[162,0.06],[164,0.08],[166,0.07],[168,0.09],[170,0.08],[172,0.07],[174,0.06],[176,0.08],[178,0.07],[180,0.05],[182,0.04],[184,0.02],[186,0.03],[188,0.01],[190,0.02],[192,0.0],[194,0.01],[196,0.02],[198,0.01],[200,0.03],[202,0.02],[204,0.04],[206,0.03],[208,0.02],[210,0.04],[212,0.03],[214,0.05],[216,0.04],[218,0.06],[220,0.05],[222,0.07],[224,0.06],[226,0.08],[228,0.07],[230,0.05],[232,0.04],[234,0.06],[236,0.05],[238,0.07],[240,0.06],[242,0.08],[244,0.07],[246,0.05],[248,0.04],[250,0.03],[252,0.02],[254,0.03],[256,0.01],[258,0.02],[260,0.0],[262,0.01],[264,0.0],[266,0.01],[268,0.02],[270,0.01],[272,0.0],[274,0.01],[276,0.02],[278,0.01],[280,0.0],[282,0.01],[284,0.02],[286,0.03],[288,0.02],[290,0.04],[292,0.03],[294,0.05],[296,0.04],[298,0.03],[300,0.02],[302,0.01],[304,0.02],[306,0.01],[308,0.0],[310,0.01],[312,0.0],[314,0.01],[316,0.02],[318,0.01],[320,0.0],[322,0.01],[324,0.02],[326,0.01],[328,0.03],[330,0.02],[332,0.04],[334,0.03],[336,0.05],[338,0.04],[340,0.06],[342,0.05],[344,0.07],[346,0.06],[348,0.08],[350,0.07],[352,0.09],[354,0.10],[356,0.12],[358,0.14],[359.5,0.16],[360.7,0.19],[362,0.185],[363,0.178],[365,0.135],[366,0.165],[367.5,0.173],[369.8,0.144],[371,0.14],[373,0.135],[374.7,0.106],[376,0.089],[378,0.085],[380,0.084],[381.5,0.071],[383,0.065],[385,0.07],[387,0.08],[388.5,0.09],[390,0.07],[392,0.06],[394,0.075],[396,0.07],[398,0.08],[400,0.07]];

const trajectories=[lower1,lower2,lower3,lower4,lower5,lower6,lower7,lower8,upper1,upper2];

// ---------- drawing ----------
const svg=d3.select("#chart");
const FONT="'Liberation Sans', Arial, Helvetica, sans-serif";
const x=d3.scaleLinear().domain([0,400]).range([180,1431]);
const y=d3.scaleLinear().domain([0,1]).range([813,27]);

// dotted line at p = 1
svg.append("line").attr("x1",x(0)).attr("x2",x(400)).attr("y1",y(1)).attr("y2",y(1))
  .attr("stroke","#333").attr("stroke-width",2).attr("stroke-dasharray","4,5");

// expected curve
const line=d3.line().x(d=>x(d[0])).y(d=>y(d[1]));
const smooth=d3.line().x(d=>x(d[0])).y(d=>y(d[1])).curve(d3.curveMonotoneX);
svg.append("path").attr("d",smooth(expected)).attr("fill","none")
  .attr("stroke","#222").attr("stroke-width",2).attr("stroke-dasharray","16,7");

// trajectories
svg.append("g").selectAll("path").data(trajectories).join("path")
  .attr("d",line).attr("fill","none").attr("stroke","#000")
  .attr("stroke-width",4.2).attr("stroke-linejoin","miter").attr("stroke-miterlimit",2.5);

// axes
const yAxis=d3.axisLeft(y).tickValues(yTickValues).tickSize(20).tickSizeOuter(0).tickPadding(12)
  .tickFormat(d=>yLabelled.some(v=>Math.abs(v-d)<1e-9)?d3.format(".1f")(d).replace(".",","):"");
const gy=svg.append("g").attr("transform",`translate(${x(0)},0)`).call(yAxis);
const xAxis=d3.axisBottom(x).tickValues(xTickValues).tickSize(20).tickSizeOuter(0).tickPadding(14);
const gx=svg.append("g").attr("transform",`translate(0,${y(0)})`).call(xAxis);
[gx,gy].forEach(g=>{
  g.selectAll("path.domain").attr("stroke","#222").attr("stroke-width",1.8);
  g.selectAll(".tick line").attr("stroke","#222").attr("stroke-width",1.8);
  g.selectAll("text").attr("font-family",FONT).attr("font-size",41).attr("fill","#000");
});

// axis titles
svg.append("text").attr("x",810).attr("y",929).attr("text-anchor","middle")
  .attr("font-family",FONT).attr("font-size",46).attr("fill","#000").text(xTitle);
const pt=svg.append("text").attr("x",14).attr("y",433).attr("font-family",FONT).attr("fill","#000").attr("font-style","italic");
pt.append("tspan").attr("font-size",43).text("p");
pt.append("tspan").attr("font-size",25).attr("dy",10).text("A");

// callout
const ax=x(calloutGen)+6, ay=y(calloutVal)+6;
const bx0=1153,bx1=1450,by0=270,by1=432;
svg.append("path").attr("d",`M${bx0},${by0}L1200,${by0}L${ax},${ay}L1277,${by0}L${bx1},${by0}L${bx1},${by1}L${bx0},${by1}Z`)
  .attr("fill","#f0f0f0").attr("stroke","#333").attr("stroke-width",1.5);
svg.append("text").attr("x",1301).attr("y",343).attr("text-anchor","middle")
  .attr("font-family",FONT).attr("font-size",42).attr("fill","#000").text(calloutLines[0]);
svg.append("text").attr("x",1301).attr("y",393).attr("text-anchor","middle")
  .attr("font-family",FONT).attr("font-size",42).attr("fill","#000").text(calloutLines[1]);
</script>
</body></html>
